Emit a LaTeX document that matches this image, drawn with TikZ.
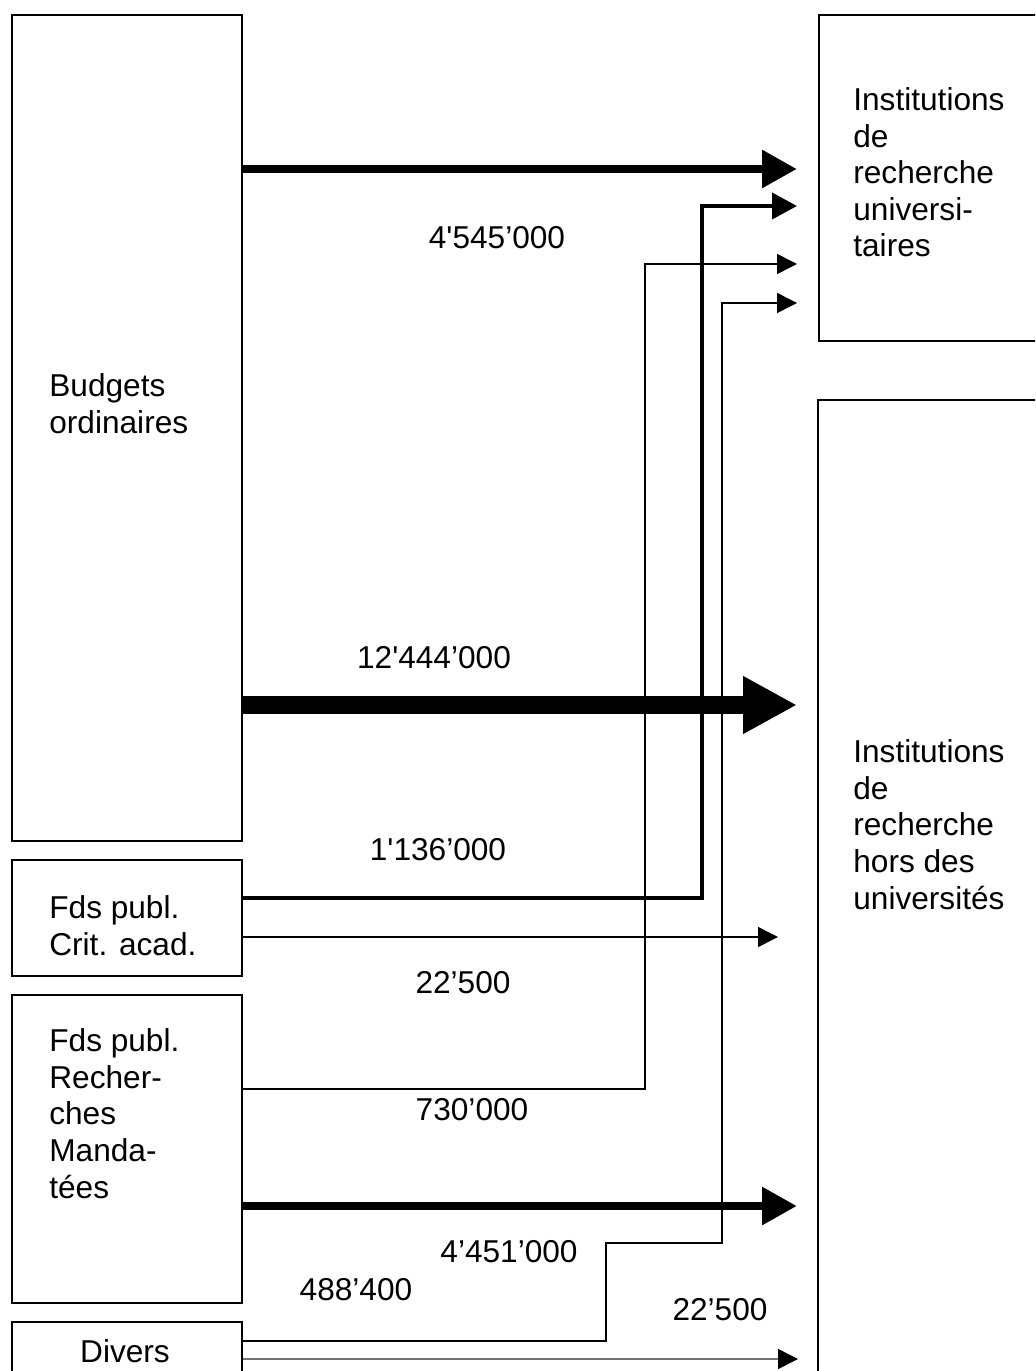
\documentclass[tikz,border=0pt]{standalone}
\usepackage{fontspec}
\setmainfont{Liberation Sans}
\usetikzlibrary{
    positioning,
    arrows.meta
    }

\begin{document}
\begin{tikzpicture}[x=0.02cm, y=-0.02cm]
\tikzset{box/.style =
        {
            rectangle,
            line width=1.2pt,
            minimum width=4.6cm,
            anchor=north west,
            inner sep=0cm,
            draw
        }
}

\tikzset{txt/.style =
        {
            anchor=base west,
            align=left,
            inner sep=0cm,
            font=\fontsize{18pt}{20.8pt}\selectfont
        }
}

\tikzset{amount/.style =
        {
            inner sep=0cm,
            font=\fontsize{18pt}{20.8pt}\selectfont
        }
}

\tikzset{thin flow/.style = {
            line width=0.85pt,
            -{Triangle[length=0.4cm, width=0.4cm]}
        }
}

\tikzset{gray flow/.style = {
            line width=0.85pt,
            draw=black!55,
            -{Triangle[length=0.4cm, width=0.4cm, color=black]}
        }
}

\tikzset{mid flow/.style = {
            line width=2.3pt,
            -{Triangle[length=0.5cm, width=0.52cm]}
        }
}

\tikzset{thick flow/.style = {
            line width=5.1pt,
            -{Triangle[length=0.7cm, width=0.72cm]}
        }
}

\tikzset{huge flow/.style = {
            line width=9.7pt,
            -{Triangle[length=1.08cm, width=1.08cm]}
        }
}
		\useasboundingbox (0,0) rectangle (1035,1371);
		\clip (0,0) rectangle (1035,1371);

		% sources
		\node[box, minimum height=16.52cm] (budgets) at (11,14) {};
		\node[box, minimum height=2.32cm] (critacad) at (11,859) {};
		\node[box, minimum height=6.16cm] (mandats) at (11,994) {};
		\node[box, minimum height=2cm] (divers) at (11,1321) {};

		% destinations
		\node[box, minimum width=6cm, minimum height=6.52cm] (univ) at (818,14) {};
		\node[box, minimum width=6cm, minimum height=20cm] (horsuniv) at (817,399) {};

		% base = last line
		\node[txt] (budgets-txt) at (49,433) {Budgets\\ordinaires};
		\node[txt] (critacad-txt) at (49,955) {Fds publ.\\Crit. acad.};
		\node[txt] (mandats-txt) at (49,1198) {Fds publ.\\Recher-\\ches\\Manda-\\tées};
		\node[amount] (divers-txt) at (125,1351) {Divers};
		\node[txt] (univ-txt) at (853,257) {Institutions\\de\\recherche\\universi-\\taires};
		\node[txt] (horsuniv-txt) at (853,909) {Institutions\\de\\recherche\\hors des\\universités};

		\foreach \name / \x / \y / \val in
			{a1/497/238/{4\textquotesingle 545’000},
				a2/434/658/{12\textquotesingle 444’000},
				a3/438/850/{1\textquotesingle 136’000},
				a4/463/983/{22’500},
				a5/472/1110/{730’000},
				a6/509/1252/{4’451’000},
				a7/356/1290/{488’400},
				a8/720/1310/{22’500}}
		\node[amount] (\name) at (\x,\y) {\val};

		\coordinate (tip1) at (797,169);
		\coordinate (tip2) at (797,705);
		\coordinate (bend3) at (702,898);
		\coordinate (tip3) at (797,206);
		\coordinate (tip4) at (778,937);
		\coordinate (bend5) at (645,1089);
		\coordinate (tip5) at (797,264);
		\coordinate (tip6) at (797,1206);
		\coordinate (bend7a) at (606,1341);
		\coordinate (bend7b) at (722,1243);
		\coordinate (tip7) at (797,303);
		\coordinate (tip8) at (798,1359);

		\draw[thin flow] (mandats.east |- bend5) -- (bend5) |- (tip5);
		\draw[thin flow] (divers.east |- bend7a) -- (bend7a) |- (bend7b) |- (tip7);
		\draw[mid flow] (critacad.east |- bend3) -- (bend3) |- (tip3);
		\draw[thin flow] (critacad.east |- tip4) -- (tip4);
		\draw[gray flow] (divers.east |- tip8) -- (tip8);

		\draw[thick flow] (budgets.east |- tip1) -- (tip1);
		\draw[huge flow] (budgets.east |- tip2) -- (tip2);
		\draw[thick flow] (mandats.east |- tip6) -- (tip6);

	\end{tikzpicture}
\end{document}
